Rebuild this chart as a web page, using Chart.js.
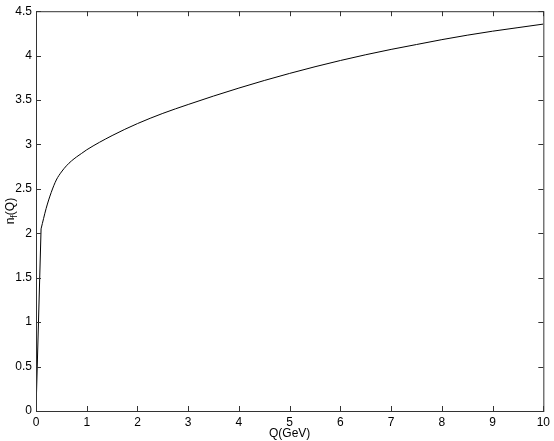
<!DOCTYPE html>
<html>
<head>
<meta charset="utf-8">
<script src="https://cdn.jsdelivr.net/npm/chart.js@4/dist/chart.umd.min.js"></script>
<style>
  html, body { margin: 0; padding: 0; background: #fff; }
  #wrap { width: 554px; height: 441px; }
</style>
</head>
<body>
<div id="wrap"><canvas id="myChart" width="554" height="441"></canvas></div>
<script>
// Q in GeV and n_f(Q)
var qValues = [0, 0.1, 0.2, 0.3, 0.4, 0.5, 0.6, 0.7, 0.8, 0.9, 1.0, 1.5, 2.0, 2.5, 3.0, 3.5, 4.0, 4.5, 5.0, 5.5, 6.0, 6.5, 7.0, 7.5, 8.0, 8.5, 9.0, 9.5, 10];
var nfValues = [0, 2.05, 2.28, 2.46, 2.60, 2.69, 2.76, 2.815, 2.86, 2.90, 2.94, 3.10, 3.235, 3.35, 3.45, 3.545, 3.635, 3.72, 3.80, 3.875, 3.945, 4.01, 4.07, 4.125, 4.18, 4.23, 4.275, 4.315, 4.355];
var xTicks = [0, 1, 2, 3, 4, 5, 6, 7, 8, 9, 10];
var yTicks = [0, 0.5, 1, 1.5, 2, 2.5, 3, 3.5, 4, 4.5];

var points = qValues.map(function (q, i) { return { x: q, y: nfValues[i] }; });
var FONT = '"Liberation Sans", Arial, sans-serif';

// box round the plot with inward ticks on all four sides, plus the axis titles
var frame = {
    id: 'frame',
    afterDraw: function (chart) {
        var c = chart.ctx, a = chart.chartArea;
        var xs = chart.scales.x, ys = chart.scales.y;
        c.save();
        c.strokeStyle = '#333';
        c.lineWidth = 1;
        c.strokeRect(a.left + 0.5, a.top + 0.5, a.right - a.left, a.bottom - a.top);
        c.beginPath();
        xTicks.forEach(function (v) {
            var px = Math.round(xs.getPixelForValue(v)) + 0.5;
            c.moveTo(px, a.bottom); c.lineTo(px, a.bottom - 5);
            c.moveTo(px, a.top); c.lineTo(px, a.top + 5);
        });
        yTicks.forEach(function (v) {
            var py = Math.round(ys.getPixelForValue(v)) + 0.5;
            c.moveTo(a.left, py); c.lineTo(a.left + 5, py);
            c.moveTo(a.right, py); c.lineTo(a.right - 5, py);
        });
        c.stroke();

        c.fillStyle = '#000';
        c.font = '12px ' + FONT;
        c.textAlign = 'center';
        c.textBaseline = 'alphabetic';
        c.fillText('Q(GeV)', (a.left + a.right) / 2, 437);

        // n_f(Q) rotated, with a lowered small f
        c.translate(14, (a.top + a.bottom) / 2);
        c.rotate(-Math.PI / 2);
        var w1 = c.measureText('n').width;
        c.font = '9px ' + FONT;
        var w2 = c.measureText('f').width;
        c.font = '12px ' + FONT;
        var w3 = c.measureText('(Q)').width;
        var x0 = -(w1 + w2 + w3) / 2;
        c.textAlign = 'left';
        c.fillText('n', x0, 0);
        c.font = '9px ' + FONT;
        c.fillText('f', x0 + w1, 3);
        c.font = '12px ' + FONT;
        c.fillText('(Q)', x0 + w1 + w2, 0);
        c.restore();
    }
};

var ctx = document.getElementById('myChart').getContext('2d');
var chart = new Chart(ctx, {
    type: 'scatter',
    data: {
        datasets: [{
            // steep first step, straight
            data: points.slice(0, 2),
            showLine: true,
            borderColor: '#000',
            borderWidth: 1,
            pointRadius: 0,
            tension: 0
        }, {
            data: points.slice(1),
            showLine: true,
            borderColor: '#000',
            borderWidth: 1,
            pointRadius: 0,
            cubicInterpolationMode: 'monotone'
        }]
    },
    options: {
        responsive: false,
        animation: false,
        layout: { padding: { top: 10, right: 10, left: 0, bottom: 0 } },
        plugins: { legend: { display: false }, tooltip: { enabled: false } },
        scales: {
            x: {
                type: 'linear',
                min: 0, max: 10,
                afterFit: function (s) { s.height = 30; },
                afterBuildTicks: function (s) { s.ticks = xTicks.map(function (v) { return { value: v }; }); },
                grid: { display: false, drawTicks: false },
                border: { display: false },
                ticks: {
                    color: '#000', padding: 4, font: { family: FONT, size: 12 },
                    callback: function (v) { return String(v); }
                }
            },
            y: {
                type: 'linear',
                min: 0, max: 4.5,
                afterFit: function (s) { s.width = 36; },
                afterBuildTicks: function (s) { s.ticks = yTicks.map(function (v) { return { value: v }; }); },
                grid: { display: false, drawTicks: false },
                border: { display: false },
                ticks: {
                    color: '#000', padding: 4, font: { family: FONT, size: 12 },
                    callback: function (v) { return String(v); }
                }
            }
        }
    },
    plugins: [frame]
});
</script>
</body>
</html>
